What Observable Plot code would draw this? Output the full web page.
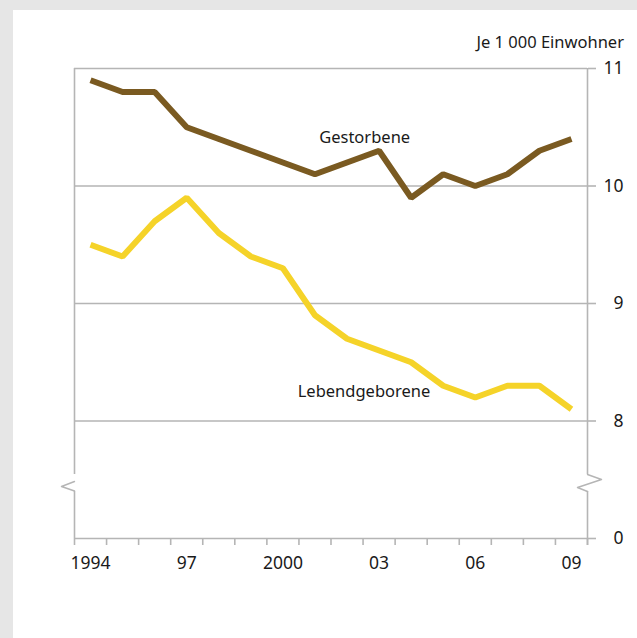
<!DOCTYPE html>
<html>
<head>
<meta charset="utf-8">
<script src="https://cdn.jsdelivr.net/npm/d3@7"></script>
<script src="https://cdn.jsdelivr.net/npm/@observablehq/plot@0.6"></script>
<style>
  html, body { margin: 0; padding: 0; background: #e6e6e6; }
  #wrap { position: relative; width: 637px; height: 638px; overflow: hidden; background: #e6e6e6; }
  #panel { position: absolute; left: 13px; top: 10px; right: 0; bottom: 0; background: #ffffff; }
  #unit { position: absolute; right: 13px; top: 34px; font-family: "Noto Sans", sans-serif; font-size: 16.5px; line-height: 16.5px; color: #1a1a1a; white-space: nowrap; }
  #chart { position: absolute; left: 0; top: 0; }
</style>
</head>
<body>
<div id="wrap">
  <div id="panel"></div>
  <div id="unit">Je 1 000 Einwohner</div>
  <div id="chart"></div>
</div>
<script>
// ---- data ----
const years = [1994, 1995, 1996, 1997, 1998, 1999, 2000, 2001, 2002, 2003, 2004, 2005, 2006, 2007, 2008, 2009];
const gestorbene = [10.9, 10.8, 10.8, 10.5, 10.4, 10.3, 10.2, 10.1, 10.2, 10.3, 9.9, 10.1, 10.0, 10.1, 10.3, 10.4];
const lebendgeborene = [9.5, 9.4, 9.7, 9.9, 9.6, 9.4, 9.3, 8.9, 8.7, 8.6, 8.5, 8.3, 8.2, 8.3, 8.3, 8.1];
const seriesNames = ["Gestorbene", "Lebendgeborene"];
const xTickYears = [1994, 1997, 2000, 2003, 2006, 2009];
const xTickLabels = ["1994", "97", "2000", "03", "06", "09"];
// y axis is broken: the value shown as "0" sits one step below 8
const yTickValues = [7, 8, 9, 10, 11];
const yTickLabels = ["0", "8", "9", "10", "11"];

// ---- build table ----
const rows = [];
years.forEach((yr, i) => {
  rows.push({year: yr, value: gestorbene[i], series: seriesNames[0]});
  rows.push({year: yr, value: lebendgeborene[i], series: seriesNames[1]});
});

const gray = "#b5b5b5";
const textColor = "#1a1a1a";
const colors = ["#7a5a21", "#f5d329"];

const xMin = years[0] - 0.5, xMax = years[years.length - 1] + 0.5;
const yMin = 7, yMax = 11;
const boundaries = d3.range(xMin, xMax + 0.01, 1);

// pixel helpers (for decorations only)
const W = 637, H = 638, mL = 74, mR = 50, mT = 68, mB = 100;
const pxPerYear = (W - mL - mR) / (xMax - xMin);
const pxPerUnit = (H - mT - mB) / (yMax - yMin);
const dxu = px => px / pxPerYear;
const dyu = px => px / pxPerUnit;

// axis break positions
const breakTop = yMin + dyu(64);
const breakBot = yMin + dyu(47);

const leftBreak = [
  {x: xMin, y: yMin + dyu(57)},
  {x: xMin - dxu(13), y: yMin + dyu(52)},
  {x: xMin, y: yMin + dyu(47.5)}
];
const rightBreak = [
  {x: xMax, y: breakTop},
  {x: xMax + dxu(14), y: yMin + dyu(59)},
  {x: xMax - dxu(10), y: yMin + dyu(51)},
  {x: xMax, y: breakBot}
];

const chart = Plot.plot({
  width: W, height: H,
  marginLeft: mL, marginRight: mR, marginTop: mT, marginBottom: mB,
  x: {domain: [xMin, xMax], label: null},
  y: {domain: [yMin, yMax], label: null},
  color: {domain: seriesNames, range: colors},
  style: {fontFamily: "Noto Sans", fontSize: "16.5px", color: textColor, background: "transparent", overflow: "visible"},
  marks: [
    // grid lines (incl. top border at 11 and baseline)
    Plot.ruleY(yTickValues, {x1: xMin, x2: xMax, stroke: gray, strokeWidth: 1.6}),
    // right axis ticks + labels
    Plot.axisY({anchor: "right", ticks: yTickValues, tickSize: 8, tickPadding: 28, textAnchor: "end",
      tickFormat: d => yTickLabels[yTickValues.indexOf(d)], stroke: gray, strokeWidth: 1.6, fill: textColor,
      fontSize: 17.5}),
    // bottom ticks at year boundaries
    Plot.axisX({ticks: boundaries, tickSize: 7, tickFormat: () => "", stroke: gray, strokeWidth: 1.6}),
    // year labels
    Plot.axisX({ticks: xTickYears, tickSize: 0, tickPadding: 18,
      tickFormat: d => xTickLabels[xTickYears.indexOf(d)], fill: textColor, fontSize: 17.5}),
    // left axis line (broken)
    Plot.ruleX([xMin], {y1: breakTop, y2: yMax, stroke: gray, strokeWidth: 1.6}),
    Plot.ruleX([xMin], {y1: yMin, y2: breakBot, stroke: gray, strokeWidth: 1.6}),
    // right axis line (broken)
    Plot.ruleX([xMax], {y1: breakTop, y2: yMax, stroke: gray, strokeWidth: 1.6}),
    Plot.ruleX([xMax], {y1: yMin - dyu(7), y2: breakBot, stroke: gray, strokeWidth: 1.6}),
    // break symbols
    Plot.line(leftBreak, {x: "x", y: "y", stroke: gray, strokeWidth: 1.4}),
    Plot.line(rightBreak, {x: "x", y: "y", stroke: gray, strokeWidth: 1.4}),
    // data lines
    Plot.line(rows, {x: "year", y: "value", z: "series", stroke: "series", strokeWidth: 6,
      strokeLinejoin: "miter", strokeLinecap: "butt"}),
    // series labels
    Plot.text([seriesNames[0]], {x: [2002.55], y: [10.41], text: d => d, fill: textColor}),
    Plot.text([seriesNames[1]], {x: [2002.53], y: [8.25], text: d => d, fill: textColor})
  ]
});
document.getElementById("chart").appendChild(chart);
</script>
</body>
</html>
